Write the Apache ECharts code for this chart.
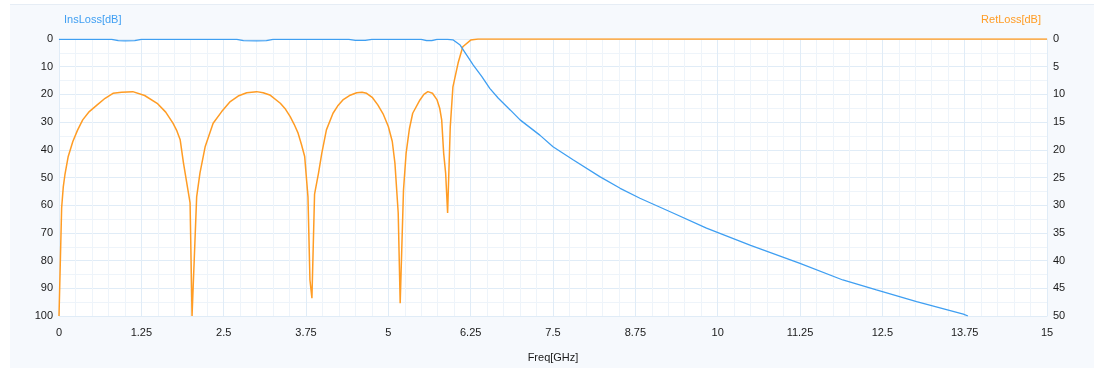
<!DOCTYPE html>
<html>
<head>
<meta charset="utf-8">
<title>InsLoss / RetLoss</title>
<script src="https://cdn.jsdelivr.net/npm/echarts@6/dist/echarts.min.js"></script>
<style>
  html, body { margin: 0; padding: 0; background: #fff; }
  #panel { position: absolute; left: 10px; top: 4px; right: 0; height: 363px; background: #f6f9fd; border-top: 1px solid #e6edf5; }
  #chart { position: absolute; left: 0; top: 0; width: 1094px; height: 372px; }
</style>
</head>
<body>
<div id="panel"></div>
<div id="chart"></div>
<script>
'use strict';

// 插损 InsLoss[dB]（左轴）
var insFreq = [0, 0.8, 0.9, 1.0, 1.15, 1.25, 2.7, 2.8, 3.0, 3.15, 3.25, 4.4, 4.5, 4.65, 4.75, 5.5, 5.58, 5.66, 5.74, 5.9,
  5.98, 6.09, 6.19, 6.29, 6.42, 6.54, 6.67, 6.85, 7.0, 7.3, 7.5, 7.81, 8.21, 8.52, 8.82, 9.33, 9.83, 10.5, 11.25, 11.9,
  12.41, 13.02, 13.73, 13.8];
var insLoss = [0.1, 0.1, 0.6, 0.7, 0.6, 0.1, 0.1, 0.6, 0.7, 0.6, 0.1, 0.1, 0.5, 0.5, 0.1, 0.1, 0.6, 0.6, 0.1, 0.1,
  0.3, 2.2, 5.8, 9.4, 13.6, 17.8, 21.4, 25.6, 29.2, 34.7, 38.9, 43.7, 49.7, 53.9, 57.5, 62.9, 68.3, 74.5, 81, 87,
  90.6, 94.8, 99.3, 100];

// 回损 RetLoss[dB]（右轴）
var retFreq = [0, 0.03, 0.04, 0.065, 0.09, 0.14, 0.21, 0.28, 0.36, 0.46, 0.58, 0.7, 0.82, 0.95, 1.12, 1.3, 1.49, 1.62,
  1.73, 1.79, 1.84, 1.89, 1.99, 2.02, 2.05,
  2.09, 2.14, 2.22, 2.34, 2.47, 2.6, 2.72, 2.85, 3.0, 3.1, 3.2, 3.36, 3.44, 3.51, 3.57, 3.63, 3.68, 3.73, 3.78, 3.81, 3.84,
  3.88, 3.94, 3.99, 4.06, 4.16, 4.23, 4.31, 4.41, 4.52, 4.6, 4.67, 4.76, 4.84, 4.92, 5.0, 5.06, 5.1, 5.15, 5.18,
  5.23, 5.27, 5.32, 5.37, 5.48, 5.54, 5.6, 5.67, 5.74, 5.78, 5.81, 5.84, 5.87, 5.9,
  5.94, 5.98, 6.06, 6.13, 6.25, 6.36, 15];
var retLoss = [50, 50, 30.5, 26.7, 24.5, 21.2, 18.5, 16.5, 14.6, 13.1, 11.9, 10.7, 9.8, 9.6, 9.5, 10.2, 11.6, 13.2,
  15.2, 16.6, 18.2, 22.4, 29.6, 50, 50,
  28.5, 24.2, 19.4, 15.2, 13.1, 11.3, 10.3, 9.7, 9.5, 9.7, 10.1, 11.6, 12.7, 14, 15.4, 17, 19, 21.2, 28.5, 43.5, 46.8,
  28, 24.2, 20.6, 16.4, 13.4, 12.1, 11, 10.2, 9.7, 9.6, 9.8, 10.6, 11.9, 13.5, 15.8, 18.5, 22.4, 31.4, 47.7,
  27.3, 20.6, 16.2, 13.4, 11, 10, 9.5, 9.8, 11, 12.5, 14.6, 20.6, 24.2, 31.4,
  15.9, 8.7, 4.3, 1.4, 0.2, 0, 0];

var BLUE = '#3f9ff2', ORANGE = '#ff9c24';
var MAJOR = '#e0ecf7', MINOR = '#eef4fa';

function pairs(xs, ys) {
  var out = [];
  for (var i = 0; i < xs.length; i++) {
    out.push([xs[i], ys[i]]);
  }
  return out;
}

var labelStyle = {
  color: '#1a1a1a',
  fontSize: 11,
  fontFamily: 'Liberation Sans'
};

var chart = echarts.init(document.getElementById('chart'));

var option = {
  animation: false,
  backgroundColor: 'transparent',
  grid: {
    left: 59,
    right: 47,
    top: 39,
    bottom: 56,
    show: true,
    backgroundColor: '#ffffff',
    borderWidth: 0
  },
  xAxis: {
    type: 'value',
    min: 0,
    max: 15,
    interval: 1.25,
    name: 'Freq[GHz]',
    nameLocation: 'middle',
    nameGap: 36,
    nameTextStyle: { color: '#1a1a1a', fontSize: 11, fontFamily: 'Liberation Sans' },
    axisLine: { show: true, lineStyle: { color: MAJOR } },
    axisTick: { show: false },
    axisLabel: Object.assign({ margin: 11 }, labelStyle),
    splitLine: { show: true, lineStyle: { color: MAJOR } },
    minorTick: { show: false, splitNumber: 5 },
    minorSplitLine: { show: true, lineStyle: { color: MINOR } }
  },
  yAxis: [{
    type: 'value',
    inverse: true,
    min: 0,
    max: 100,
    interval: 10,
    position: 'left',
    name: 'InsLoss[dB]',
    nameLocation: 'start',
    nameGap: 14,
    nameTextStyle: { color: BLUE, fontSize: 11, fontFamily: 'Liberation Sans', align: 'left', padding: [0, 0, 0, 5] },
    axisLine: { show: true, lineStyle: { color: MAJOR } },
    axisTick: { show: false },
    axisLabel: Object.assign({ margin: 6 }, labelStyle),
    splitLine: { show: true, lineStyle: { color: MAJOR } },
    minorTick: { show: false, splitNumber: 2 },
    minorSplitLine: { show: true, lineStyle: { color: MINOR } }
  }, {
    type: 'value',
    inverse: true,
    min: 0,
    max: 50,
    interval: 5,
    position: 'right',
    name: 'RetLoss[dB]',
    nameLocation: 'start',
    nameGap: 14,
    nameTextStyle: { color: ORANGE, fontSize: 11, fontFamily: 'Liberation Sans', align: 'right', padding: [0, 6, 0, 0] },
    axisLine: { show: true, lineStyle: { color: MAJOR } },
    axisTick: { show: false },
    axisLabel: Object.assign({ margin: 6 }, labelStyle),
    splitLine: { show: false }
  }],
  series: [{
    name: 'InsLoss',
    type: 'line',
    yAxisIndex: 0,
    showSymbol: false,
    lineStyle: { color: BLUE, width: 1.3 },
    itemStyle: { color: BLUE },
    data: pairs(insFreq, insLoss),
    z: 3
  }, {
    name: 'RetLoss',
    type: 'line',
    yAxisIndex: 1,
    showSymbol: false,
    lineStyle: { color: ORANGE, width: 1.5 },
    itemStyle: { color: ORANGE },
    data: pairs(retFreq, retLoss),
    z: 2
  }]
};

chart.setOption(option);
</script>
</body>
</html>
